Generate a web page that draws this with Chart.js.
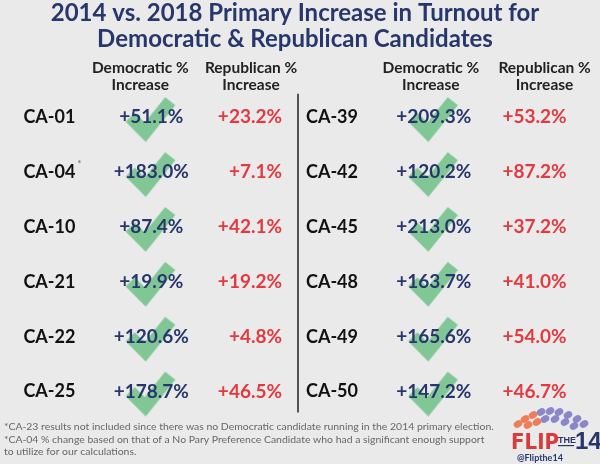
<!DOCTYPE html>
<html>
<head>
<meta charset="utf-8">
<script src="https://cdn.jsdelivr.net/npm/chart.js@4"></script>
<style>
  html, body { margin: 0; padding: 0; background: #eaeaea; }
  #wrap { width: 600px; height: 464px; }
</style>
</head>
<body>
<div id="wrap"><canvas id="myChart" width="600" height="464"></canvas></div>
<script>
// table values
var leftDistricts = ["CA-01", "CA-04", "CA-10", "CA-21", "CA-22", "CA-25"];
var leftDem = [51.1, 183.0, 87.4, 19.9, 120.6, 178.7];
var leftRep = [23.2, 7.1, 42.1, 19.2, 4.8, 46.5];

var rightDistricts = ["CA-39", "CA-42", "CA-45", "CA-48", "CA-49", "CA-50"];
var rightDem = [209.3, 120.2, 213.0, 163.7, 165.6, 147.2];
var rightRep = [53.2, 87.2, 37.2, 41.0, 54.0, 46.7];

var titleLines = ["2014 vs. 2018 Primary Increase in Turnout for", "Democratic & Republican Candidates"];
var demHeader = ["Democratic %", "Increase"];
var repHeader = ["Republican %", "Increase"];
var footnotes = [
    "*CA-23 results not included since there was no Democratic candidate running in the 2014 primary election.",
    "*CA-04 % change based on that of a No Pary Preference Candidate who had a significant enough support",
    "to utilize for our calculations."
];

// column anchors on the x scale (0..600)
var col = { lDist: 23, lDem: 151, lRep: 282, rDist: 306, rDem: 434, rRep: 567, divider: 298 };

var navy = "#27376b";
var red = "#e23a3f";
var green = "#80c795";
var FONT = "Lato, sans-serif";

function fmt(v) { return "+" + v.toFixed(1) + "%"; }

// checkmark point style
function makeCheck() {
    var c = document.createElement("canvas");
    c.width = 64; c.height = 64;
    var g = c.getContext("2d");
    var cx = 32, cy = 32;
    g.strokeStyle = green;
    g.lineWidth = 13;
    g.lineJoin = "miter";
    g.lineCap = "butt";
    g.beginPath();
    g.moveTo(cx - 21, cy);
    g.lineTo(cx - 6, cy + 15);
    g.lineTo(cx + 19, cy - 16);
    g.stroke();
    return c;
}
var checkImg = makeCheck();

var checkPoints = [];
leftDem.forEach(function (v, i) { checkPoints.push({ x: col.lDem, y: i }); });
rightDem.forEach(function (v, i) { checkPoints.push({ x: col.rDem, y: i }); });

var tablePlugin = {
    id: "tableText",
    afterDatasetsDraw: function (chart) {
        var ctx = chart.ctx;
        var xs = chart.scales.x, ys = chart.scales.y;
        ctx.save();

        // title
        ctx.fillStyle = navy;
        ctx.textAlign = "center";
        ctx.textBaseline = "alphabetic";
        ctx.font = "bold 24px " + FONT;
        ctx.fillText(titleLines[0], 295, 21);
        ctx.fillText(titleLines[1], 295, 47);

        // headers
        ctx.fillStyle = "#222";
        ctx.font = "bold 15.5px " + FONT;
        [[xs.getPixelForValue(140), demHeader], [xs.getPixelForValue(251), repHeader],
         [xs.getPixelForValue(431), demHeader], [xs.getPixelForValue(545), repHeader]].forEach(function (h) {
            ctx.fillText(h[1][0], h[0], 73);
            ctx.fillText(h[1][1], h[0], 90);
        });

        // divider
        ctx.strokeStyle = "#222";
        ctx.lineWidth = 1.5;
        ctx.beginPath();
        ctx.moveTo(xs.getPixelForValue(col.divider), ys.getPixelForValue(-0.43));
        ctx.lineTo(xs.getPixelForValue(col.divider), ys.getPixelForValue(5.38));
        ctx.stroke();

        // cells
        ctx.textBaseline = "middle";
        function side(dists, dem, rep, cDist, cDem, cRep) {
            dists.forEach(function (d, i) {
                var y = ys.getPixelForValue(i);
                ctx.font = "bold 18px " + FONT;
                ctx.fillStyle = "#111";
                ctx.textAlign = "left";
                ctx.fillText(d, xs.getPixelForValue(cDist), y);
                if (d === "CA-04") {
                    var w = ctx.measureText(d).width;
                    ctx.font = "bold 9px " + FONT;
                    ctx.fillStyle = "#777";
                    ctx.fillText("*", xs.getPixelForValue(cDist) + w + 2, y - 8);
                }
                ctx.font = "bold 19px " + FONT;
                ctx.fillStyle = navy;
                ctx.textAlign = "center";
                ctx.fillText(fmt(dem[i]), xs.getPixelForValue(cDem), y);
                ctx.fillStyle = red;
                ctx.textAlign = "right";
                ctx.fillText(fmt(rep[i]), xs.getPixelForValue(cRep), y);
            });
        }
        side(leftDistricts, leftDem, leftRep, col.lDist, col.lDem, col.lRep);
        side(rightDistricts, rightDem, rightRep, col.rDist, col.rDem, col.rRep);

        // footnotes, sized so the first line runs to about x=494
        ctx.fillStyle = "#666";
        ctx.textAlign = "left";
        ctx.textBaseline = "alphabetic";
        ctx.font = "10px " + FONT;
        var fs = 10 * 490 / ctx.measureText(footnotes[0]).width;
        ctx.font = fs.toFixed(2) + "px " + FONT;
        ctx.fillText(footnotes[0], 4, 430);
        ctx.fillText(footnotes[1], 4, 443);
        ctx.fillText(footnotes[2], 4, 455);

        // logo
        var dots = [[518, 424, "#ef7d5a"], [525, 419, "#ef7d5a"], [533, 415, "#ef7d5a"], [541, 412, "#8b86c9"],
                    [550, 411, "#8b86c9"], [559, 412, "#8b86c9"], [568, 415, "#8b86c9"], [577, 419, "#8b86c9"],
                    [528, 425, "#ef7d5a"], [545, 419, "#8b86c9"], [555, 419, "#8b86c9"], [565, 422, "#8b86c9"],
                    [584, 424, "#8b86c9"], [574, 426, "#8b86c9"], [537, 422, "#ef7d5a"]];
        dots.forEach(function (d) {
            ctx.fillStyle = d[2];
            ctx.beginPath();
            ctx.ellipse(d[0], d[1], 4.5, 3.5, -0.5, 0, Math.PI * 2);
            ctx.fill();
        });
        ctx.fillStyle = "#d93a3a";
        ctx.font = "bold 22px 'Liberation Sans Narrow', 'DejaVu Sans Condensed', sans-serif";
        ctx.fillText("FLIP", 511, 449);
        ctx.fillStyle = navy;
        ctx.font = "bold 9px 'Liberation Sans Narrow', sans-serif";
        ctx.fillText("THE", 558, 443);
        ctx.fillRect(558, 445, 16, 1.2);
        ctx.font = "bold 24px 'Liberation Sans Narrow', sans-serif";
        ctx.fillText("14", 575, 449);
        ctx.font = "bold 9px " + FONT;
        ctx.fillText("@Flipthe14", 517, 461);

        ctx.restore();
    }
};

var ctx = document.getElementById("myChart").getContext("2d");
var myChart = new Chart(ctx, {
    type: "scatter",
    data: {
        datasets: [{
            label: "Democratic increase",
            data: checkPoints,
            pointStyle: checkImg,
            pointRadius: 0.5,
            pointBorderWidth: 0,
            pointHoverRadius: 0.5
        }]
    },
    options: {
        responsive: false,
        animation: false,
        events: [],
        layout: { padding: 0 },
        plugins: { legend: { display: false }, tooltip: { enabled: false } },
        scales: {
            x: { type: "linear", min: 0, max: 600, display: false },
            y: { type: "linear", min: -117 / 55, max: (464 - 117) / 55, reverse: true, display: false }
        }
    },
    plugins: [tablePlugin]
});
</script>
</body>
</html>
